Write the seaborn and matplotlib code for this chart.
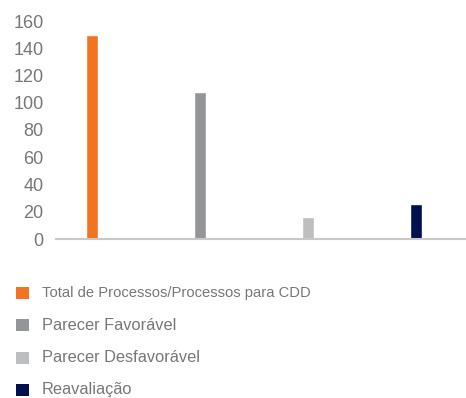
import matplotlib
matplotlib.use("Agg")
import matplotlib.pyplot as plt
from matplotlib.patches import Rectangle
import seaborn as sns
import pandas as pd

categories = [
    "Total de Processos/Processos para CDD",
    "Parecer Favorável",
    "Parecer Desfavorável",
    "Reavaliação",
]
values = [150, 108, 16, 26]
colors = ["#F47321", "#939598", "#BCBEC0", "#000F4D"]
y_ticks = [0, 20, 40, 60, 80, 100, 120, 140, 160]

sns.set_theme(style="white")
plt.rcParams["font.family"] = ["Liberation Sans", "DejaVu Sans"]

W, H = 466, 398
fig = plt.figure(figsize=(W / 100, H / 100), dpi=100)
ax = fig.add_axes([56 / W, (H - 239) / H, (465 - 56) / W, (239 - 21) / H])

df = pd.DataFrame({"categoria": categories, "valor": values})
sns.barplot(data=df, x="categoria", y="valor", hue="categoria",
            palette=colors, width=0.111, dodge=False, legend=False, ax=ax,
            saturation=1)

ax.set_xlim(-0.333, 3.45)
ax.set_ylim(0, 160)
ax.set_yticks(y_ticks)
ax.set_yticklabels([str(t) for t in y_ticks])
ax.set_xticks([])
ax.set_xlabel("")
ax.set_ylabel("")
for side in ["top", "right", "left"]:
    ax.spines[side].set_visible(False)
ax.spines["bottom"].set_color("#c8c8c8")
ax.spines["bottom"].set_linewidth(1.5)
ax.tick_params(axis="y", length=0, pad=9, labelsize=13, labelcolor="#777777")

# Legend: square markers with labels stacked below the chart
legend_y = [292.5, 325, 357.5, 389.5]
legend_sizes = [10.6, 11.8, 11.8, 11.8]
for label, color, yc, fs in zip(categories, colors, legend_y, legend_sizes):
    fig.patches.append(Rectangle((16 / W, (H - yc - 6) / H), 13 / W, 12 / H,
                                 transform=fig.transFigure, facecolor=color,
                                 edgecolor="none"))
    fig.text(42 / W, (H - yc) / H, label, fontsize=fs, color="#777777",
             va="center", ha="left")

fig.savefig("out.png", dpi=100)
